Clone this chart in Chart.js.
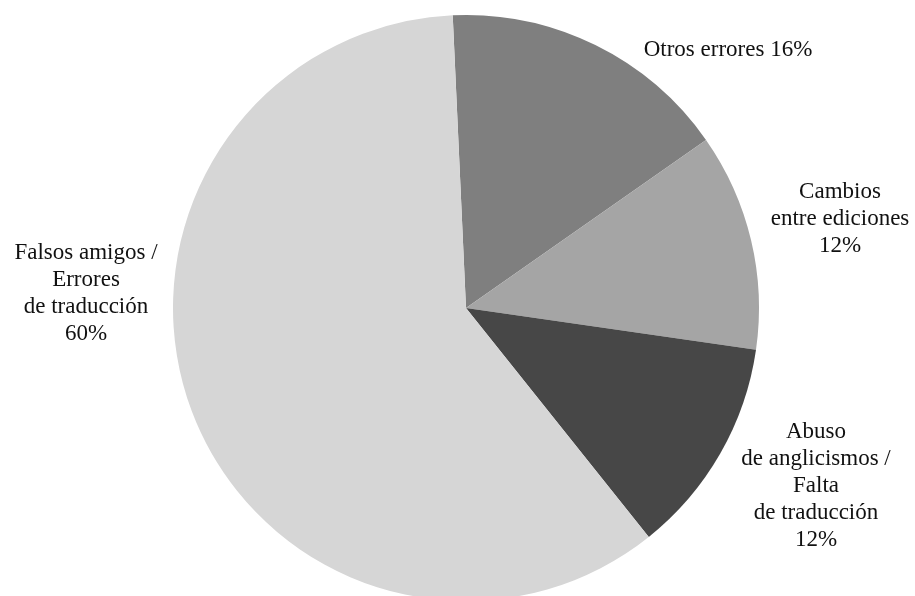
<!DOCTYPE html>
<html>
<head>
<meta charset="utf-8">
<script src="https://cdn.jsdelivr.net/npm/chart.js@4.4.0/dist/chart.umd.min.js"></script>
<style>
  html, body { margin: 0; padding: 0; background: #fff; overflow: hidden; }
  #wrap { position: absolute; left: 0; top: 0; width: 915px; height: 616px; }
</style>
</head>
<body>
<div id="wrap"><canvas id="tortaChart"></canvas></div>
<script>
// Datos
const categorias = [
  ["Otros errores 16%"],
  ["Cambios", "entre ediciones", "12%"],
  ["Abuso", "de anglicismos /", "Falta", "de traducción", "12%"],
  ["Falsos amigos /", "Errores", "de traducción", "60%"]
];
const valores = [16, 12, 12, 60];
const colores = ["#7f7f7f", "#a5a5a5", "#474747", "#d6d6d6"];

// Posición de cada etiqueta respecto al centro de la torta (primera línea)
const posEtiquetas = [
  [262, -252],
  [374, -110],
  [350, 130],
  [-380, -49]
];
const altoLinea = 27;

// Etiquetas de texto
const etiquetas = {
  id: "etiquetas",
  afterDatasetsDraw(chart) {
    const ctx = chart.ctx;
    const arco = chart.getDatasetMeta(0).data[0];
    ctx.save();
    ctx.font = "23px 'Liberation Serif', serif";
    ctx.fillStyle = "#111";
    ctx.textAlign = "center";
    ctx.textBaseline = "alphabetic";
    categorias.forEach((lineas, i) => {
      let x = arco.x + posEtiquetas[i][0];
      let y = arco.y + posEtiquetas[i][1];
      lineas.forEach((t, j) => ctx.fillText(t, x, y + j * altoLinea));
    });
    ctx.restore();
  }
};

new Chart(document.getElementById("tortaChart"), {
  type: 'pie',
  data: {
    labels: categorias.map(l => l.join(" ")),
    datasets: [{
      data: valores,
      backgroundColor: colores,
      borderWidth: 0
    }]
  },
  options: {
    responsive: true,
    maintainAspectRatio: false,
    animation: false,
    rotation: -2.6,
    layout: { padding: { left: 17, right: 0, top: 15, bottom: 15 } },
    plugins: {
      legend: { display: false },
      tooltip: { enabled: false }
    }
  },
  plugins: [etiquetas]
});
</script>
</body>
</html>
